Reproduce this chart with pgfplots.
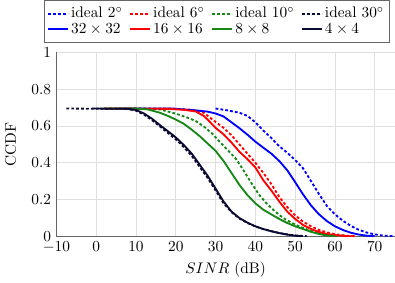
\documentclass[border=0pt]{standalone}
\usepackage{pgfplots}
\pgfplotsset{compat=1.18}
\definecolor{cblue}{RGB}{0,0,255}
\definecolor{cred}{RGB}{255,0,0}
\definecolor{cgreen}{RGB}{20,135,20}
\definecolor{cnavy}{RGB}{10,10,50}
\begin{document}
\begin{tikzpicture}
\begin{axis}[
  scale only axis,
  width=220.5pt, height=120pt,
  xmin=-10, xmax=75, ymin=0, ymax=1,
  xtick={-10,0,10,20,30,40,50,60,70},
  ytick={0,0.2,0.4,0.6,0.8,1},
  grid=major,
  grid style={gray!25, line width=0.5pt},
  axis x line*=bottom, axis y line*=left,
  axis line style={gray!80!black, line width=0.5pt, -},
  tick style={draw=none},
  xlabel={$SINR$ (dB)},
  ylabel={CCDF},
  ylabel shift=3pt,
  xlabel style={yshift=1pt},
  legend columns=4,
  legend cell align=left,
  legend image code/.code={\draw[mark repeat=2,mark phase=2] plot coordinates {(0pt,0pt) (6.4pt,0pt) (12.8pt,0pt)};},
  legend image post style={line width=1.2pt},
  legend style={at={(0.9855,1.053)}, anchor=south east, draw=gray!80!black, fill=white,
    nodes={inner xsep=1.5pt, inner ysep=1pt},
    /tikz/every even column/.append style={column sep=3pt},
    inner xsep=2pt, inner ysep=3.5pt},
  every axis plot/.append style={line width=1.2pt},
  idl/.style={dash pattern=on 1.8pt off 1.4pt},
]
\addplot[cblue, idl] coordinates {
(30,0.695)(33,0.685)(36,0.672)(38,0.655)(40,0.62)(42,0.575)(44,0.535)(46,0.49)(48,0.455)(50,0.415)(52,0.37)(54,0.30)(56,0.23)(58,0.165)(60,0.12)(62,0.085)(64,0.057)(66,0.036)(68,0.021)(70,0.011)(72,0.005)(75,0.001)};
\addlegendentry{ideal 2$^\circ$}
\addplot[cred, idl] coordinates {
(2,0.695)(18,0.695)(24,0.688)(27,0.672)(30,0.622)(32,0.59)(34,0.55)(36,0.5)(38,0.45)(40,0.4)(42,0.345)(44,0.285)(46,0.215)(48,0.16)(50,0.115)(52,0.08)(54,0.055)(56,0.035)(58,0.022)(60,0.012)(62,0.006)(65,0.001)};
\addlegendentry{ideal 6$^\circ$}
\addplot[cgreen, idl] coordinates {
(2,0.695)(13,0.695)(16,0.69)(20,0.667)(23,0.645)(25,0.627)(27,0.598)(29,0.562)(31,0.515)(33,0.47)(35,0.425)(37,0.36)(39,0.29)(41,0.225)(43,0.175)(45,0.135)(47,0.1)(49,0.075)(51,0.055)(53,0.038)(55,0.024)(57,0.013)(59,0.005)(61,0.001)};
\addlegendentry{ideal 10$^\circ$}
\addplot[cnavy, idl] coordinates {
(-7.5,0.695)(8,0.692)(10,0.683)(12,0.662)(14,0.632)(16,0.598)(18,0.562)(20,0.528)(22,0.485)(24,0.438)(26,0.378)(28,0.318)(30,0.25)(32,0.18)(34,0.132)(36,0.097)(38,0.073)(40,0.054)(42,0.04)(44,0.029)(46,0.019)(48,0.011)(50,0.005)(53,0.001)};
\addlegendentry{ideal 30$^\circ$}
\addplot[cblue] coordinates {
(5,0.695)(19,0.695)(22,0.69)(25,0.685)(28,0.678)(30,0.668)(32,0.652)(34,0.62)(36,0.588)(38,0.553)(40,0.515)(42,0.482)(44,0.45)(46,0.41)(48,0.36)(50,0.295)(52,0.228)(54,0.168)(56,0.12)(58,0.083)(60,0.055)(62,0.035)(64,0.02)(66,0.01)(68,0.004)(70,0.001)};
\addlegendentry{$32 \times 32$}
\addplot[cred] coordinates {
(3,0.695)(18,0.693)(22,0.688)(25,0.679)(27,0.655)(28,0.635)(30,0.59)(32,0.555)(34,0.51)(36,0.46)(38,0.42)(40,0.375)(42,0.305)(44,0.25)(46,0.19)(48,0.135)(50,0.095)(52,0.062)(54,0.04)(56,0.024)(58,0.013)(60,0.007)(63,0.002)(65,0.0)};
\addlegendentry{$16 \times 16$}
\addplot[cgreen] coordinates {
(3,0.695)(10,0.695)(13,0.69)(16,0.672)(18,0.655)(20,0.635)(22,0.612)(24,0.58)(26,0.545)(28,0.505)(30,0.465)(32,0.41)(34,0.345)(36,0.28)(38,0.225)(40,0.18)(42,0.145)(44,0.12)(46,0.095)(48,0.073)(50,0.055)(52,0.04)(54,0.025)(56,0.013)(58,0.005)(60,0.001)};
\addlegendentry{$8 \times 8$}
\addplot[cnavy] coordinates {
(-1,0.695)(8,0.693)(10,0.687)(12,0.668)(14,0.64)(16,0.605)(18,0.572)(20,0.538)(22,0.497)(24,0.45)(26,0.39)(28,0.33)(30,0.26)(32,0.19)(34,0.135)(36,0.1)(38,0.075)(40,0.055)(42,0.04)(44,0.028)(46,0.018)(48,0.01)(50,0.004)(52,0.001)};
\addlegendentry{$4 \times 4$}
\end{axis}
\end{tikzpicture}
\end{document}
